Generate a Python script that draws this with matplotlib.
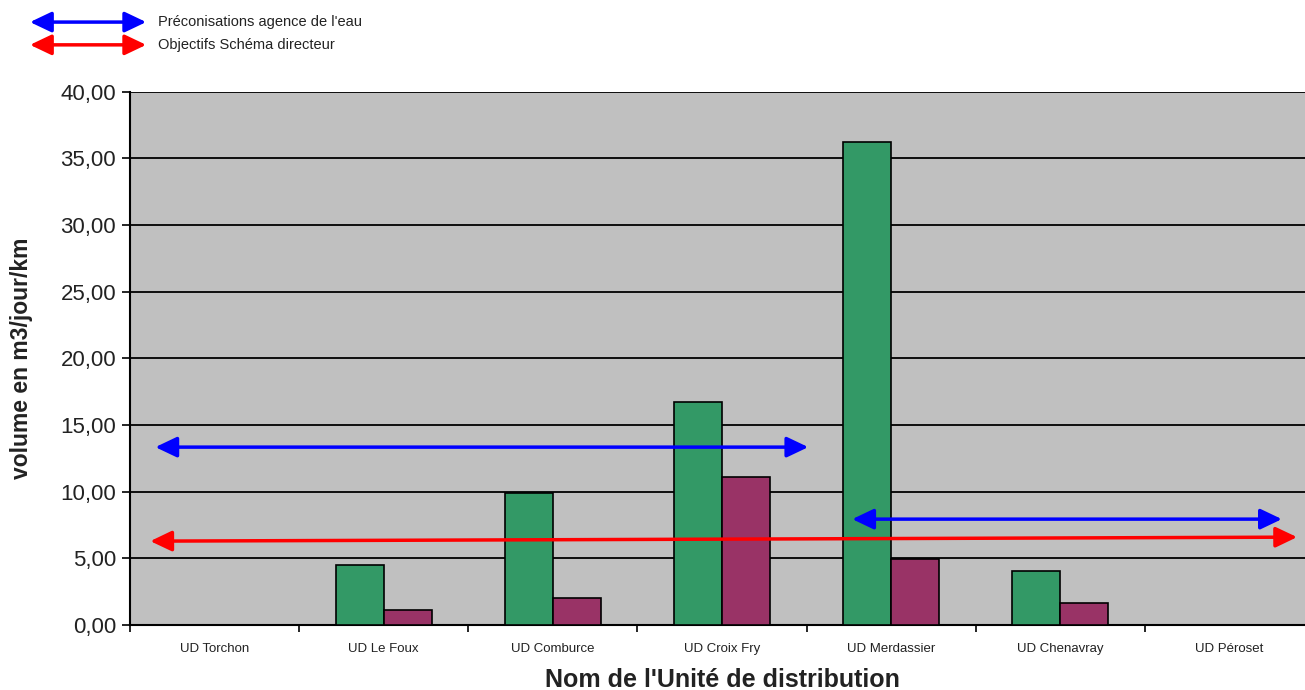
import matplotlib
matplotlib.use('Agg')
import matplotlib.pyplot as plt
import numpy as np

# Données
categories = ["UD Torchon", "UD Le Foux", "UD Comburce", "UD Croix Fry",
              "UD Merdassier", "UD Chenavray", "UD Péroset"]
serie_verte = [0.0, 4.5, 9.9, 16.7, 36.2, 4.05, 0.0]
serie_violette = [0.0, 1.1, 2.0, 11.1, 4.95, 1.65, 0.0]

# Flèches (début x, fin x, niveau début, niveau fin) en unités de catégorie
fleches_agence = [(-0.35, 3.51, 13.35, 13.35), (3.77, 6.31, 7.95, 7.95)]
fleches_schema = [(-0.38, 6.40, 6.3, 6.6)]

legende = ["Préconisations agence de l'eau", "Objectifs Schéma directeur"]

plt.rcParams['font.family'] = ['Liberation Sans', 'DejaVu Sans']

fig = plt.figure(figsize=(13.05, 6.9), dpi=100)
# la zone de tracé déborde un peu à droite de l'image, comme l'original
ax = fig.add_axes([130 / 1305, 0.094, 1184 / 1305, 0.773])
ax.set_facecolor('#c0c0c0')

x = np.arange(len(categories))
w = 0.283
ax.bar(x - w / 2, serie_verte, w, color='#339966', edgecolor='black', linewidth=1.2, zorder=3)
ax.bar(x + w / 2, serie_violette, w, color='#993366', edgecolor='black', linewidth=1.2, zorder=3)

ax.set_xlim(-0.5, len(categories) - 0.5)
ax.set_ylim(0, 40)
ax.set_yticks(np.arange(0, 41, 5))
ax.set_yticklabels([f"{v:.2f}".replace('.', ',') for v in np.arange(0, 41, 5)], fontsize=16, color='#222222')
ax.yaxis.grid(True, color='black', linewidth=1.3, zorder=1)
ax.set_axisbelow(True)

# ticks mineurs entre catégories, labels au centre
ax.set_xticks(x)
ax.set_xticklabels(categories, fontsize=9.5, color='#222222')
ax.tick_params(axis='x', which='major', length=0, pad=13)
ax.set_xticks(np.arange(-0.5, len(categories), 1), minor=True)
ax.tick_params(axis='x', which='minor', length=5, width=1.2, direction='out')
ax.tick_params(axis='y', length=6, width=1.2, direction='out', pad=4)

for s in ['top', 'right']:
    ax.spines[s].set_visible(False)
for s in ['left', 'bottom']:
    ax.spines[s].set_linewidth(1.5)

ax.set_ylabel("volume en m3/jour/km", fontsize=16.5, fontweight='bold', color='#222222')
ax.yaxis.set_label_coords(-97 / 1184, 0.5)
ax.set_xlabel("Nom de l'Unité de distribution", fontsize=18, fontweight='bold', color='#222222',
              va='baseline')
ax.xaxis.set_label_coords((722 - 130) / 1184, -(687 - 625) / 533)

def fleche(x0, x1, y0, y1, couleur, coords='data'):
    ax.annotate('', xy=(x1, y1), xytext=(x0, y0), xycoords=coords, textcoords=coords,
                zorder=5, annotation_clip=False,
                arrowprops=dict(arrowstyle='<|-|>,head_length=0.42,head_width=0.2',
                                color=couleur, lw=2.5, mutation_scale=31,
                                shrinkA=0, shrinkB=0))

for x0, x1, y0, y1 in fleches_agence:
    fleche(x0, x1, y0, y1, '#0000ff')
for x0, x1, y0, y1 in fleches_schema:
    fleche(x0, x1, y0, y1, '#ff0000')

# légende en haut à gauche
fleche(0.023, 0.112, 0.968, 0.968, '#0000ff', coords='figure fraction')
fleche(0.023, 0.112, 0.935, 0.935, '#ff0000', coords='figure fraction')
fig.text(0.121, 0.968, legende[0], fontsize=10.5, va='center', color='#222222')
fig.text(0.121, 0.935, legende[1], fontsize=10.5, va='center', color='#222222')

fig.savefig('out.png', dpi=100)
